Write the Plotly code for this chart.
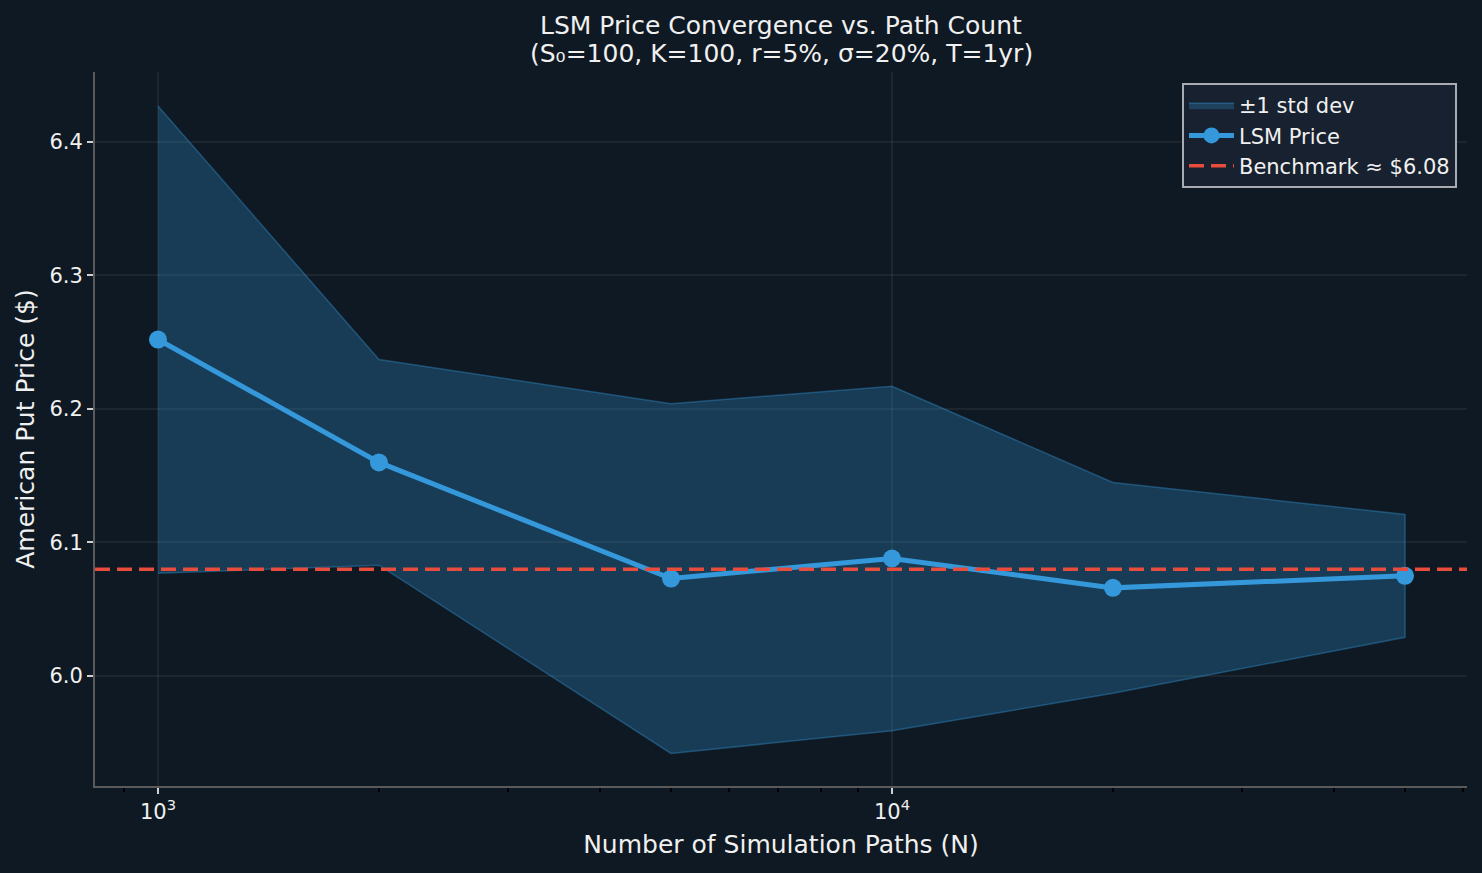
import plotly.graph_objects as go
import numpy as np

# ---- data ----
paths = [1000, 2000, 5000, 10000, 20000, 50000]
lsm_price = [6.252, 6.160, 6.073, 6.088, 6.066, 6.075]
std_dev = [0.175, 0.077, 0.131, 0.129, 0.079, 0.046]
benchmark = 6.08
y_ticks = [6.0, 6.1, 6.2, 6.3, 6.4]
x_major = [1000, 10000]
x_major_text = ["10<sup>3</sup>", "10<sup>4</sup>"]
x_minor = [800, 900, 2000, 3000, 4000, 5000, 6000, 7000, 8000, 9000,
           20000, 30000, 40000, 50000, 60000]
x_range_log = [2.9142, 4.7834]
y_range = [5.9176, 6.4524]

BG = "#0f1923"
BLUE = "#3498db"
RED = "#e74c3c"
TXT = "#f0f0f0"
FONT = "DejaVu Sans"

upper = [m + s for m, s in zip(lsm_price, std_dev)]
lower = [m - s for m, s in zip(lsm_price, std_dev)]

fig = go.Figure()

fig.add_trace(go.Scatter(
    x=paths + paths[::-1],
    y=upper + lower[::-1],
    fill="toself",
    fillcolor="rgba(52,152,219,0.28)",
    line=dict(color="rgba(52,152,219,0.38)", width=1.5),
    mode="lines",
    name="±1 std dev",
    hoverinfo="skip",
))

fig.add_trace(go.Scatter(
    x=paths, y=lsm_price,
    mode="lines+markers",
    line=dict(color=BLUE, width=5),
    marker=dict(color=BLUE, size=18),
    name="LSM Price",
))

fig.add_trace(go.Scatter(
    x=[10 ** x_range_log[0], 10 ** x_range_log[1]],
    y=[benchmark, benchmark],
    mode="lines",
    line=dict(color=RED, width=3.5, dash="15px,7px"),
    name="Benchmark ≈ $6.08",
))

fig.update_layout(
    width=1482, height=873,
    paper_bgcolor=BG, plot_bgcolor=BG,
    margin=dict(l=95, r=15, t=72, b=87),
    font=dict(family=FONT, color=TXT, size=21),
    showlegend=True,
    legend=dict(
        x=0.9927, y=0.9846, xanchor="right", yanchor="top",
        bgcolor="#17212f", bordercolor="#a8acb0", borderwidth=2,
        font=dict(family=FONT, size=21, color=TXT),
        itemwidth=45, tracegroupgap=0,
    ),
    annotations=[
        dict(text="LSM Price Convergence vs. Path Count", xref="paper", yref="paper",
             x=0.5, y=(786 - 25) / 714, xanchor="center", yanchor="middle",
             showarrow=False, font=dict(family=FONT, size=25, color=TXT)),
        dict(text="(S₀=100, K=100, r=5%, σ=20%, T=1yr)", xref="paper", yref="paper",
             x=0.5, y=(786 - 53) / 714, xanchor="center", yanchor="middle",
             showarrow=False, font=dict(family=FONT, size=25, color=TXT)),
    ],
)

fig.update_xaxes(
    type="log", range=x_range_log,
    tickmode="array", tickvals=x_major, ticktext=x_major_text,
    ticks="outside", ticklen=6, tickwidth=2, tickcolor="#d0d0d0",
    tickfont=dict(family=FONT, size=21, color=TXT),
    showline=True, linecolor="#5a5a5a", linewidth=2, mirror=False,
    showgrid=True, gridcolor="rgba(255,255,255,0.06)", gridwidth=1.5,
    zeroline=False,
    minor=dict(tickmode="array", tickvals=x_minor, ticks="outside", ticklen=4,
               tickwidth=1.5, tickcolor="#000000", showgrid=False),
    title=dict(text="Number of Simulation Paths (N)",
               font=dict(family=FONT, size=25, color=TXT), standoff=12),
)

fig.update_yaxes(
    range=y_range,
    tickmode="array", tickvals=y_ticks, tickformat=".1f",
    ticks="outside", ticklen=6, tickwidth=2, tickcolor="#d0d0d0",
    tickfont=dict(family=FONT, size=21, color=TXT),
    showline=True, linecolor="#5a5a5a", linewidth=2, mirror=False,
    showgrid=True, gridcolor="rgba(255,255,255,0.06)", gridwidth=1.5,
    zeroline=False,
    title=dict(text="American Put Price ($)",
               font=dict(family=FONT, size=25, color=TXT), standoff=8),
)

fig.write_html("out.html")
